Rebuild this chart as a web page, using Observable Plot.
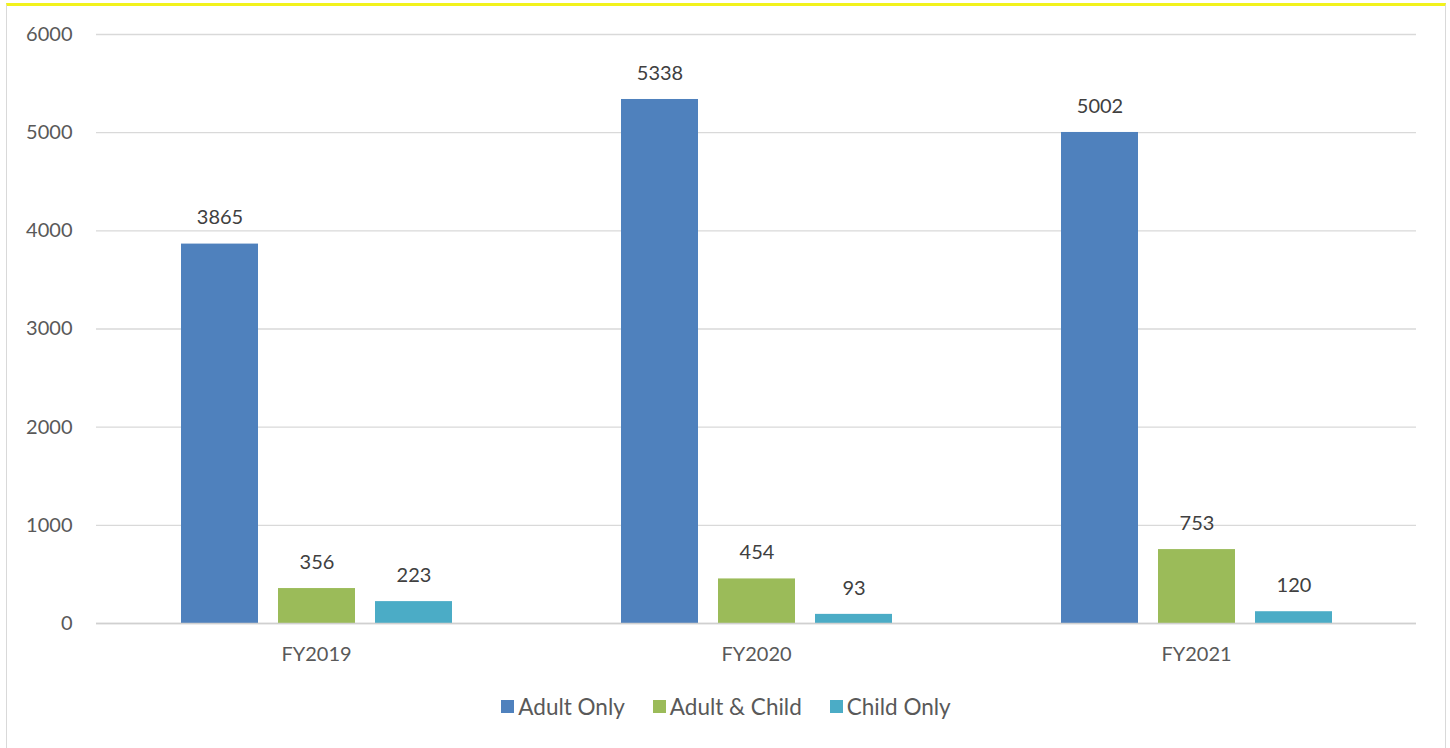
<!DOCTYPE html>
<html>
<head>
<meta charset="utf-8">
<script src="https://cdn.jsdelivr.net/npm/d3@7"></script>
<script src="https://cdn.jsdelivr.net/npm/@observablehq/plot@0.6"></script>
<style>
  html, body { margin: 0; padding: 0; background: #ffffff; }
  body { font-family: Lato, "Open Sans", sans-serif; }
  #frame {
    position: absolute; left: 6px; top: 3px; width: 1438px; height: 760px;
    border-top: 3px solid #f2f21c; border-left: 1px solid #d9d9d9; border-right: 1px solid #d9d9d9;
    background: #ffffff;
  }
  #legend { display: flex; justify-content: center; margin-top: 22px; }
  .lg-swatches { font-family: Lato, sans-serif; font-size: 22.5px; color: #595959; margin: 0 !important; }
  .lg-swatch { margin-right: 28px !important; }
  .lg-swatch:last-child { margin-right: 0 !important; }
  .lg-swatch > svg { margin-right: 4px !important; }
</style>
</head>
<body>
<div id="frame"><div id="chart"></div><div id="legend"></div></div>
<script>
const years = ["FY2019", "FY2020", "FY2021"];
const series = ["Adult Only", "Adult & Child", "Child Only"];
const adultOnly = [3865, 5338, 5002];
const adultChild = [356, 454, 753];
const childOnly = [223, 93, 120];
const colors = ["#4f81bd", "#9bbb59", "#4bacc6"];
const yTicks = [0, 1000, 2000, 3000, 4000, 5000, 6000];

const seriesValues = [adultOnly, adultChild, childOnly];
const data = years.flatMap((year, i) =>
  series.map((s, j) => ({ year, series: s, value: seriesValues[j][i] }))
);

const plot = Plot.plot({
  width: 1438,
  height: 662,
  marginLeft: 89,
  marginRight: 29,
  marginTop: 28,
  marginBottom: 45,
  style: { fontFamily: "Lato, sans-serif", fontSize: "20px", color: "#595959", background: "white", overflow: "visible" },
  fx: { domain: years, padding: 0, label: null },
  x: { domain: series, paddingInner: 0.21, paddingOuter: 0.86, axis: null },
  y: { domain: [0, 6000], label: null },
  color: { domain: series, range: colors },
  marks: [
    Plot.gridY(yTicks, { stroke: "#d9d9d9", strokeOpacity: 1, strokeWidth: 1.3 }),
    Plot.axisY(yTicks, { tickSize: 0, tickPadding: 24, label: null, fill: "#595959", tickFormat: d => String(d) }),
    Plot.axisFx({ anchor: "bottom", tickSize: 0, tickPadding: 23, label: null, fill: "#595959" }),
    Plot.barY(data, { fx: "year", x: "series", y: "value", fill: "series" }),
    Plot.text(data, {
      fx: "year", x: "series", y: "value", text: d => String(d.value),
      lineAnchor: "middle", dy: -26, fill: "#404040", fontSize: 20
    }),
    Plot.ruleY([0], { stroke: "#d0d0d0", strokeWidth: 1.5 })
  ]
});
document.getElementById("chart").appendChild(plot);

const legend = Plot.legend({
  color: { domain: series, range: colors },
  swatchSize: 13,
  className: "lg"
});
document.getElementById("legend").appendChild(legend);
</script>
</body>
</html>
